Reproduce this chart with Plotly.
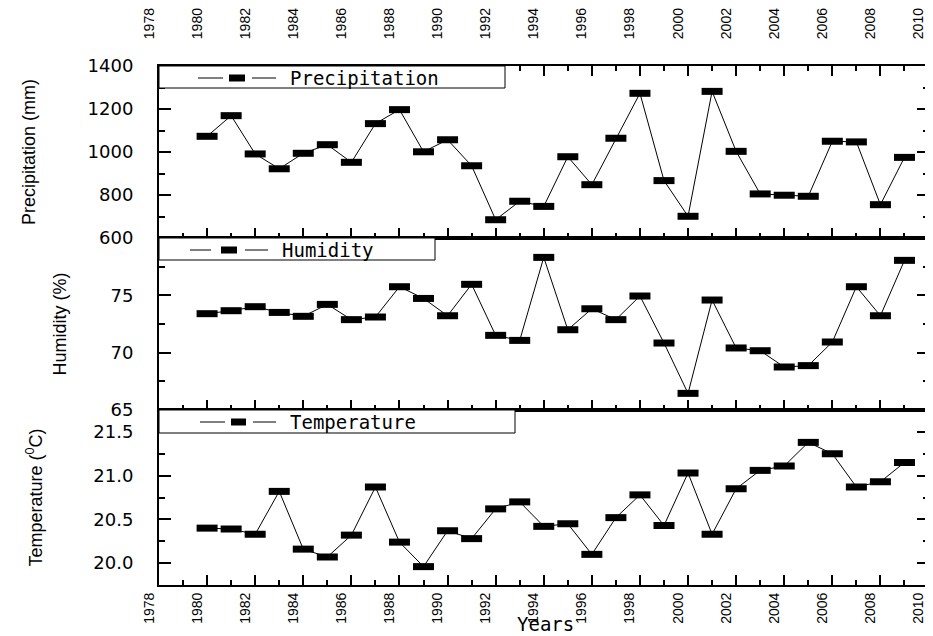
import plotly.graph_objects as go

# ---------------- data ----------------
years = list(range(1980, 2010))
precipitation = [1073, 1169, 991, 922, 994, 1034, 952, 1132, 1197, 1001,
                 1057, 936, 685, 771, 747, 978, 848, 1064, 1273, 867,
                 701, 1282, 1003, 805, 799, 794, 1050, 1047, 755, 975]
humidity = [73.40, 73.66, 74.01, 73.51, 73.17, 74.21, 72.88, 73.11, 75.75, 74.73,
            73.22, 75.96, 71.51, 71.07, 78.31, 72.00, 73.83, 72.88, 74.94, 70.84,
            66.45, 74.59, 70.41, 70.17, 68.75, 68.87, 70.93, 75.75, 73.22, 78.05]
temperature = [20.40, 20.39, 20.33, 20.82, 20.16, 20.07, 20.32, 20.87, 20.24, 19.96,
               20.37, 20.28, 20.62, 20.70, 20.42, 20.45, 20.10, 20.52, 20.78, 20.43,
               21.03, 20.33, 20.85, 21.06, 21.11, 21.38, 21.25, 20.87, 20.93, 21.15]

series_names = ["Precipitation", "Humidity", "Temperature"]
y_titles = ["Precipitation (mm)", "Humidity (%)", "Temperature (<sup>0</sup>C)"]
x_title = "Years"
year_ticks = [1978, 1980, 1982, 1984, 1986, 1988, 1990, 1992, 1994,
              1996, 1998, 2000, 2002, 2004, 2006, 2008, 2010]
x_range = [1978, 2010.02]
p_range, p_ticks = [600, 1400], [600, 800, 1000, 1200, 1400]
h_range, h_ticks = [65, 80], [65, 70, 75]
t_range, t_ticks = [19.75, 21.75], [20.0, 20.5, 21.0, 21.5]

# ---------------- geometry (pixels) ----------------
W, H = 933, 636
L, R, T, B = 151, 921, 58, 577
PW, PH = R - L, B - T


def px(xp):
    return (xp - L) / PW


def py(yp):
    return (B - yp) / PH


dom_top = [py(230), 1.0]
dom_mid = [py(402), py(230)]
dom_bot = [0.0, py(402)]

TICK_FONT = dict(family="DejaVu Sans, Liberation Sans, Arial", size=18, color="black")
YEAR_FONT = dict(family="Liberation Sans, Arial", size=14, color="black")
TITLE_FONT = dict(family="Liberation Sans, Arial", size=18, color="black")
LEG_FONT = dict(family="DejaVu Sans Mono, DejaVu Sans", size=19, color="black")

fig = go.Figure()

marker = dict(symbol="line-ew", size=15, line=dict(width=7, color="black"), color="black")
line = dict(color="black", width=1)

fig.add_trace(go.Scatter(x=years, y=precipitation, name=series_names[0], mode="lines+markers",
                         marker=marker, line=line, xaxis="x", yaxis="y", showlegend=False))
fig.add_trace(go.Scatter(x=years, y=humidity, name=series_names[1], mode="lines+markers",
                         marker=marker, line=line, xaxis="x2", yaxis="y2", showlegend=False))
fig.add_trace(go.Scatter(x=years, y=temperature, name=series_names[2], mode="lines+markers",
                         marker=marker, line=line, xaxis="x3", yaxis="y3", showlegend=False))
# empty trace so that the top year axis is drawn
fig.add_trace(go.Scatter(x=[], y=[], xaxis="x4", yaxis="y", showlegend=False, hoverinfo="skip"))

xcommon = dict(range=x_range, tickmode="array", tickvals=year_ticks,
               ticks="inside", ticklen=10, tickwidth=2,
               tickcolor="black", minor=dict(dtick=1, tick0=1978, ticklen=5, tickwidth=2,
                                             ticks="inside", tickcolor="black"),
               showline=True, linewidth=2, linecolor="black", mirror=True,
               showgrid=False, zeroline=False, automargin=False, domain=[0, 1])
ycommon = dict(ticks="inside", ticklen=12, tickwidth=2, tickcolor="black",
               showline=True, linewidth=2, linecolor="black", mirror="ticks",
               showgrid=False, zeroline=False, automargin=False,
               tickfont=TICK_FONT, ticklabelstandoff=20)

fig.update_layout(
    width=W, height=H,
    margin=dict(l=L, r=W - R, t=T, b=H - B, pad=0),
    paper_bgcolor="white", plot_bgcolor="white",
    showlegend=False,
    xaxis=dict(xcommon, anchor="y", showticklabels=False),
    xaxis2=dict(xcommon, anchor="y2", matches="x", showticklabels=False),
    xaxis3=dict(xcommon, anchor="y3", matches="x", showticklabels=True, tickangle=-90,
                tickfont=YEAR_FONT, ticklabelstandoff=0, ticklabelshift=-10),
    xaxis4=dict(xcommon, anchor="y", overlaying="x", side="top", showticklabels=True,
                tickangle=-90, tickfont=YEAR_FONT, ticklabelstandoff=22,
                ticklabelshift=-10, mirror=False),
    yaxis=dict(ycommon, domain=dom_top, anchor="x", range=p_range, tickvals=p_ticks,
               minor=dict(tickvals=[700, 900, 1100, 1300], ticklen=6, tickwidth=2,
                          ticks="inside", tickcolor="black"),
               title=dict(text=y_titles[0], font=TITLE_FONT, standoff=47)),
    yaxis2=dict(ycommon, domain=dom_mid, anchor="x2", range=h_range, tickvals=h_ticks,
                minor=dict(tickvals=[67.5, 72.5, 77.5], ticklen=6, tickwidth=2,
                           ticks="inside", tickcolor="black"),
                title=dict(text=y_titles[1], font=TITLE_FONT, standoff=39)),
    yaxis3=dict(ycommon, domain=dom_bot, anchor="x3", range=t_range, tickvals=t_ticks,
                tickformat=".1f",
                minor=dict(tickvals=[20.25, 20.75, 21.25, 21.75], ticklen=6, tickwidth=2,
                           ticks="inside", tickcolor="black"),
                title=dict(text=y_titles[2], font=TITLE_FONT, standoff=46)),
)

# ---------------- legend boxes (drawn manually to match the original layout) ----------------
legend_specs = [
    # box_right, box_top, box_bottom, line1, marker, line2, text_x, center_y
    (497, 58, 80, (190, 215), (221, 237), (244, 268), 280, 70),
    (427, 230, 252, (182, 203), (213, 229), (237, 260), 272, 242),
    (507, 402, 425, (192, 217), (223, 238), (245, 268), 280, 414),
]
for name, (br, bt, bb, l1, mk, l2, tx, cy) in zip(series_names, legend_specs):
    fig.add_shape(type="rect", xref="paper", yref="paper", x0=px(L), x1=px(br),
                  y0=py(bb), y1=py(bt), line=dict(color="black", width=1),
                  fillcolor="white", layer="above")
    for seg in (l1, l2):
        fig.add_shape(type="line", xref="paper", yref="paper", x0=px(seg[0]), x1=px(seg[1]),
                      y0=py(cy), y1=py(cy), line=dict(color="black", width=1), layer="above")
    fig.add_shape(type="rect", xref="paper", yref="paper", x0=px(mk[0]), x1=px(mk[1]),
                  y0=py(cy + 3.5), y1=py(cy - 3.5), line=dict(width=0),
                  fillcolor="black", layer="above")
    fig.add_annotation(text=name, xref="paper", yref="paper", x=px(tx), y=py(cy),
                       xanchor="left", yanchor="middle", showarrow=False, font=LEG_FONT)

fig.add_annotation(text=x_title, xref="paper", yref="paper", x=px(537), y=py(628),
                   xanchor="center", yanchor="bottom", showarrow=False, borderpad=0,
                   font=dict(family="DejaVu Sans Mono, DejaVu Sans", size=19, color="black"))

fig.write_html("out.html")
